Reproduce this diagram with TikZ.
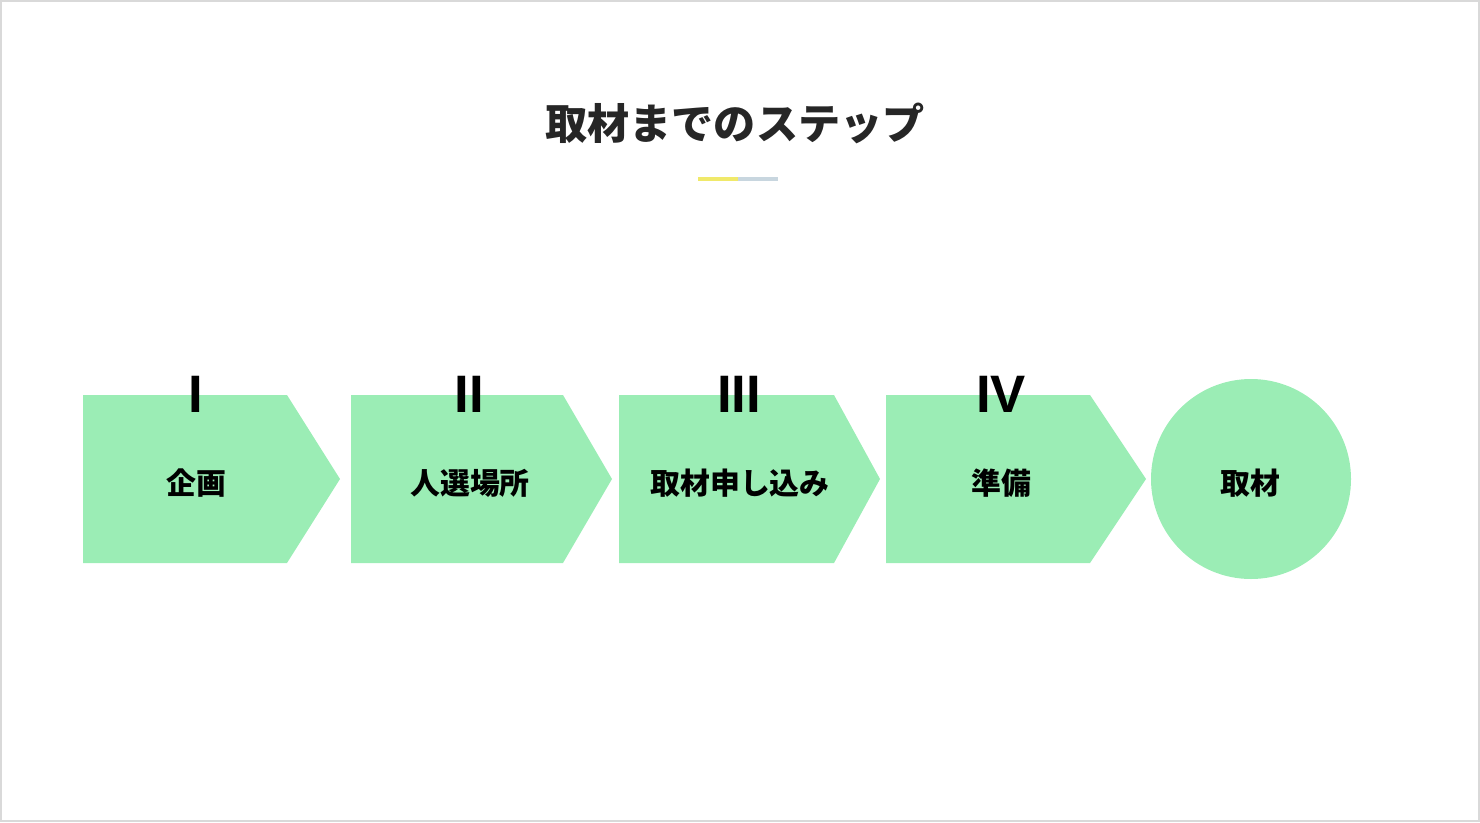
\documentclass[tikz,border=0pt]{standalone}
\usepackage{fontspec}
\setmainfont{Liberation Sans}
\newfontfamily\cjk{Noto Sans CJK JP}
\definecolor{stepgreen}{HTML}{9BEDB5}
\definecolor{lineyellow}{HTML}{F0E96A}
\definecolor{linegray}{HTML}{C8D6DF}
\definecolor{framegray}{HTML}{D9D9D9}
\tikzset{
  steplabel/.style={font=\cjk\bfseries\fontsize{17}{20}\selectfont},
  numlabel/.style={font=\bfseries\fontsize{30}{32}\selectfont,inner sep=0pt},
  stepshape/.style={fill=stepgreen,draw=none},
}
\begin{document}
\begin{tikzpicture}[x=0.02cm,y=-0.02cm]
  \draw[framegray,line width=1pt] (1,1) rectangle (1479,821);
  \useasboundingbox (0,0) rectangle (1480,822);
  % title
  \node[font=\cjk\bfseries\fontsize{24}{28}\selectfont,text=black!85] (title) at (735,123) {取材までのステップ};
  \draw[lineyellow,line width=2.4pt] (698,179) -- (738,179);
  \draw[linegray,line width=2.4pt] (738,179) -- (778,179);
  % steps
  \foreach \a/\b/\c [count=\i] in {83/287/340,351/563/612,619/834/880,886/1090/1146}
    \fill[stepshape] (\a,395) -- (\b,395) -- (\c,479) -- (\b,563) -- (\a,563) -- cycle;
  \fill[stepshape] (1251,479) circle (100);
  \node[steplabel] (s1) at (196,483) {企画};
  \node[steplabel] (s2) at (470,483) {人選場所};
  \node[steplabel] (s3) at (740,483) {取材申し込み};
  \node[steplabel] (s4) at (1001,483) {準備};
  \node[steplabel] (s5) at (1250,483) {取材};
  \node[numlabel] (n1) at (196,394) {I};
  \node[numlabel] (n2) at (469,394) {II};
  \node[numlabel] (n3) at (739,394) {III};
  \node[numlabel] (n4) at (1001,394) {IV};
\end{tikzpicture}
\end{document}
